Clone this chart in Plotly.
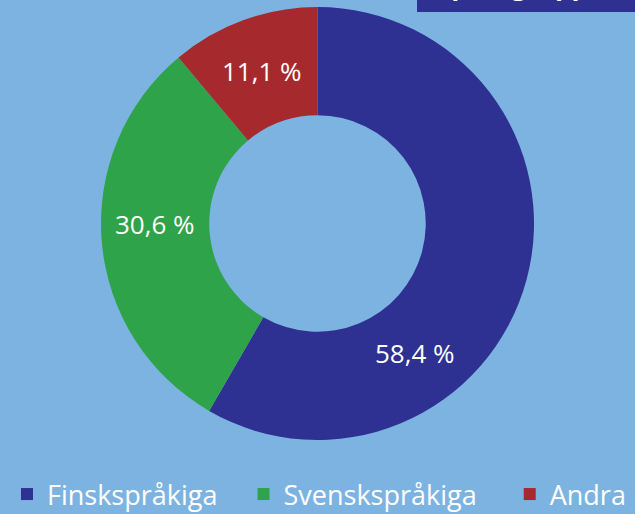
import math
import plotly.graph_objects as go

labels = ["Finskspråkiga", "Svenskspråkiga", "Andra"]
values = [58.4, 30.6, 11.1]
colors = ["#2E3192", "#2EA34A", "#A6292D"]
title_text = "Språkgrupper"

W, H = 635, 514
FONT = "Open Sans"
text = [f"{v:.1f}".replace(".", ",") + " %" for v in values]
# pad legend entries with non-breaking spaces to widen the gaps between items
pads = [3, 4, 0]
legend_labels = [l + "\u00a0" * p for l, p in zip(labels, pads)]

# pie geometry (pixels)
top_px, bot_px = 7, 440
cx_px = W / 2
cy_px = (top_px + bot_px) / 2
r_out = (bot_px - top_px) / 2
hole = 0.5
r_lab = r_out * (1 + hole) / 2
label_angles = [143, 270, 340]  # degrees clockwise from 12 o'clock (label placement)

fig = go.Figure(go.Pie(
    labels=legend_labels, values=values, text=text,
    textinfo="none",
    hole=hole, sort=False, direction="clockwise", rotation=0,
    marker=dict(colors=colors, line=dict(width=0)),
    domain=dict(x=[0, 1], y=[1 - bot_px / H, 1 - top_px / H]),
    hoverinfo="label+text",
))

annotations = []
for t, a in zip(text, label_angles):
    x = cx_px + r_lab * math.sin(math.radians(a))
    y = cy_px - r_lab * math.cos(math.radians(a))
    annotations.append(dict(text=t, xref="paper", yref="paper", x=x / W, y=1 - y / H,
                            xanchor="center", yanchor="middle", showarrow=False,
                            font=dict(family=FONT, size=26, color="white")))

annotations.append(dict(text=f"<b>{title_text}</b>", xref="paper", yref="paper",
                        x=526 / W, y=1 - 5 / H, xanchor="center", yanchor="bottom",
                        showarrow=False, font=dict(family=FONT, size=26, color="white")))

fig.update_layout(
    width=W, height=H,
    margin=dict(l=0, r=0, t=0, b=0, autoexpand=False),
    paper_bgcolor="#7DB3E0", plot_bgcolor="#7DB3E0",
    showlegend=True,
    legend=dict(orientation="h", x=7 / W, xanchor="left", y=-5 / H, yanchor="bottom",
                font=dict(family=FONT, size=27, color="white"),
                bgcolor="rgba(0,0,0,0)"),
    shapes=[dict(type="rect", xref="paper", yref="paper",
                 x0=417 / W, x1=1.01, y0=1 - 12 / H, y1=1.01,
                 fillcolor="#2E3192", line=dict(width=0), layer="above")],
    annotations=annotations,
)

fig.write_html("out.html", config={"displayModeBar": False},
               post_script="document.body.style.margin='0';")
